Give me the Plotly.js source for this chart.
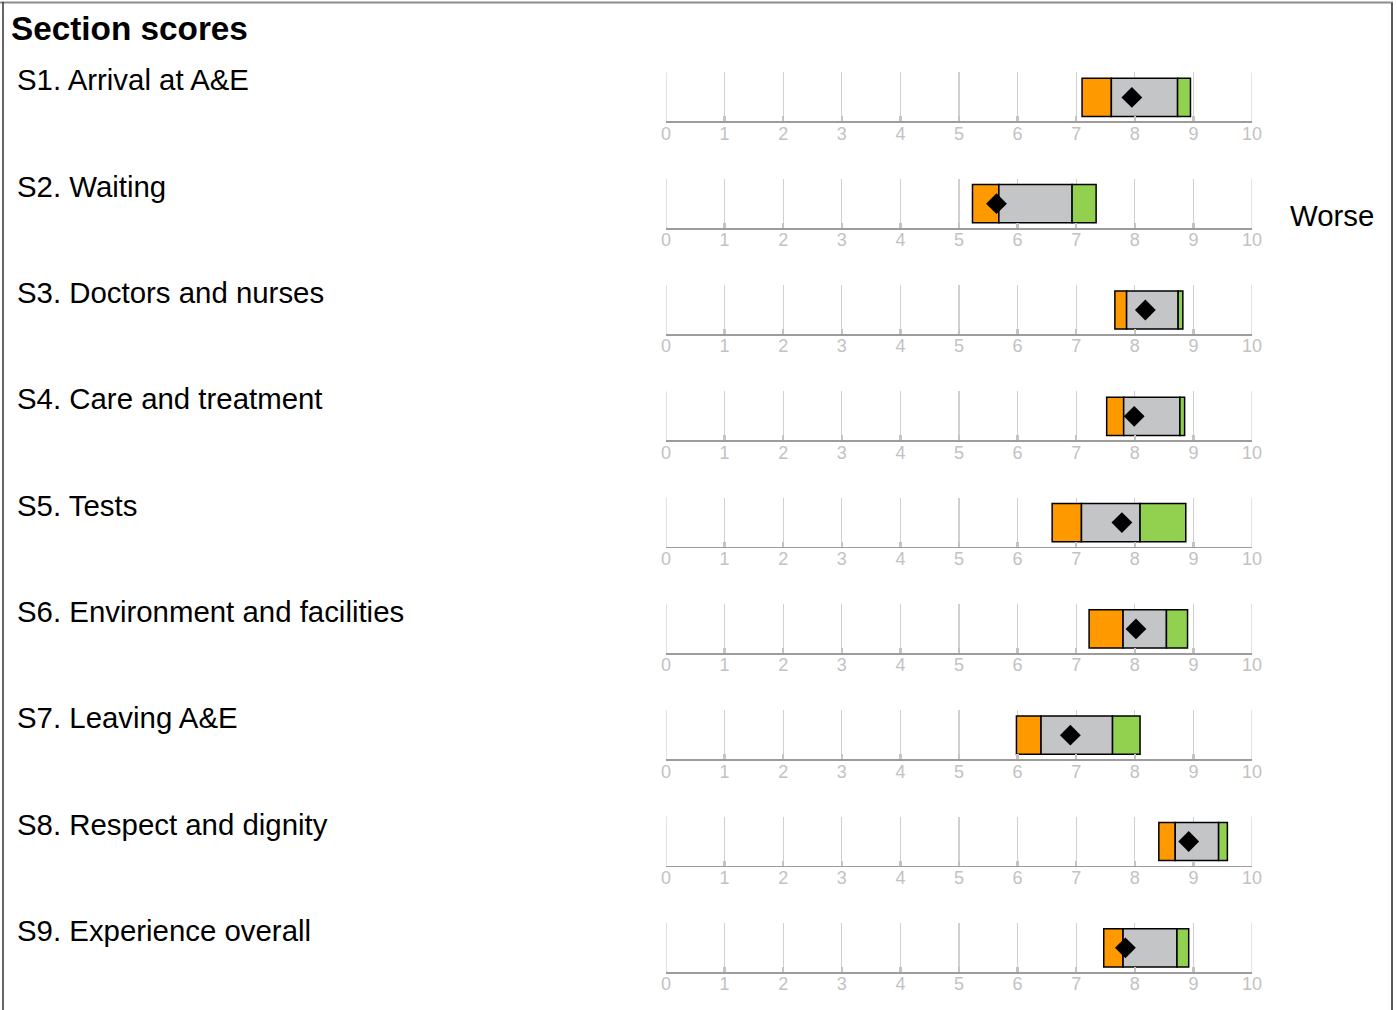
<!DOCTYPE html>
<html><head><meta charset="utf-8">
<script src="https://cdn.plot.ly/plotly-3.0.1.min.js"></script>
<style>html,body{margin:0;padding:0;background:#fff}</style>
</head><body><div id="chart" style="width:1397px;height:1010px"></div>
<script>
const sections = ["S1. Arrival at A&E","S2. Waiting","S3. Doctors and nurses","S4. Care and treatment","S5. Tests","S6. Environment and facilities","S7. Leaving A&E","S8. Respect and dignity","S9. Experience overall"];
const lowerStart  = [7.10, 5.23, 7.66, 7.52, 6.59, 7.22, 5.98, 8.41, 7.47];
const middleStart = [7.60, 5.68, 7.86, 7.81, 7.09, 7.80, 6.40, 8.69, 7.80];
const upperStart  = [8.73, 6.93, 8.74, 8.77, 8.09, 8.54, 7.62, 9.43, 8.72];
const upperEnd    = [8.95, 7.34, 8.82, 8.85, 8.87, 8.90, 8.09, 9.58, 8.92];
const trustScore  = [7.95, 5.64, 8.18, 7.99, 7.78, 8.02, 6.90, 8.92, 7.84];
const tickValues  = [0,1,2,3,4,5,6,7,8,9,10];
const tickLabels  = ["0","1","2","3","4","5","6","7","8","9","10"];
const titleText = "Section scores";
const sideNote = "Worse";

const W = 1397, H = 1010;
const pitch = 106.3, gridTop0 = 72.4, axis0 = 121.4, labelC0 = 80;
const xL = 666/W, xR = 1252/W;
const colors = {low:"#FF9900", mid:"#C4C5C7", high:"#92D050"};
const font = "Liberation Sans, Arial, sans-serif";
const gridCol = "#d0d0d0";

const data = [];
const layout = {
  width: W, height: H, margin:{l:0,r:0,t:0,b:0},
  paper_bgcolor:"#fff", plot_bgcolor:"rgba(0,0,0,0)",
  showlegend:false, barmode:"overlay", bargap:0,
  font:{family:font},
  annotations:[], shapes:[]
};

sections.forEach((name,i)=>{
  const n = i===0 ? "" : String(i+1);
  const xa = "x"+n, ya = "y"+n;
  const top = gridTop0 + i*pitch, bot = axis0 + i*pitch;
  layout["xaxis"+n] = {
    domain:[xL,xR], range:[0,10], anchor:ya, fixedrange:true,
    tickvals:tickValues, ticktext:tickLabels,
    showgrid:true, gridcolor:gridCol, gridwidth:1.2,
    zeroline:false, showline:true, linecolor:"#9c9c9c", linewidth:1.8,
    ticks:"inside", ticklen:5, tickwidth:2.5, tickcolor:"#c4c4c4",
    ticklabelstandoff:-5,
    tickfont:{size:18, color:"#c2c2c2", family:font}
  };
  layout["yaxis"+n] = {
    domain:[1-bot/H, 1-top/H], range:[0,1], anchor:xa, fixedrange:true,
    showgrid:false, zeroline:false, showline:false, showticklabels:false, ticks:""
  };
  [tickValues[0], tickValues[tickValues.length-1]].forEach(v=>{
    layout.shapes.push({type:"line", xref:xa, yref:ya+" domain", x0:v, x1:v, y0:0, y1:1,
      line:{color:gridCol, width:1.2}, layer:"below"});
  });
  const segs = [
    [lowerStart[i], middleStart[i], colors.low],
    [middleStart[i], upperStart[i], colors.mid],
    [upperStart[i], upperEnd[i], colors.high]
  ];
  segs.forEach(s=>{
    data.push({type:"bar", orientation:"h", y:[0.49], base:[s[0]], x:[s[1]-s[0]], width:[0.78],
      xaxis:xa, yaxis:ya, marker:{color:s[2], line:{color:"#000", width:1.5}}, hoverinfo:"skip"});
  });
  data.push({type:"scatter", mode:"markers", x:[trustScore[i]], y:[0.49], xaxis:xa, yaxis:ya,
    marker:{symbol:"diamond", size:16, color:"#000"}, hoverinfo:"skip"});
  layout.annotations.push({text:name, xref:"paper", yref:"paper", x:15/W, y:1-(labelC0+i*pitch)/H,
    xanchor:"left", yanchor:"middle", showarrow:false, font:{size:29.4, color:"#000", family:font}});
});

layout.annotations.push({text:"<b>"+titleText+"</b>", xref:"paper", yref:"paper", x:9/W, y:1-28/H,
  xanchor:"left", yanchor:"middle", showarrow:false, font:{size:33.3, color:"#000", family:font}});
layout.annotations.push({text:sideNote, xref:"paper", yref:"paper", x:1288/W, y:1-216/H,
  xanchor:"left", yanchor:"middle", showarrow:false, font:{size:29.4, color:"#000", family:font}});

layout.shapes.push({type:"line", xref:"paper", yref:"paper", x0:0, x1:1393/W, y0:1-2.5/H, y1:1-2.5/H, line:{color:"#8c8c8c", width:2}});
layout.shapes.push({type:"line", xref:"paper", yref:"paper", x0:3/W, x1:3/W, y0:1-2/H, y1:0, line:{color:"#333", width:1.5}});
layout.shapes.push({type:"line", xref:"paper", yref:"paper", x0:1392/W, x1:1392/W, y0:1-3/H, y1:0, line:{color:"#222", width:1.5}});

Plotly.newPlot("chart", data, layout, {displayModeBar:false, staticPlot:true});
</script></body></html>
